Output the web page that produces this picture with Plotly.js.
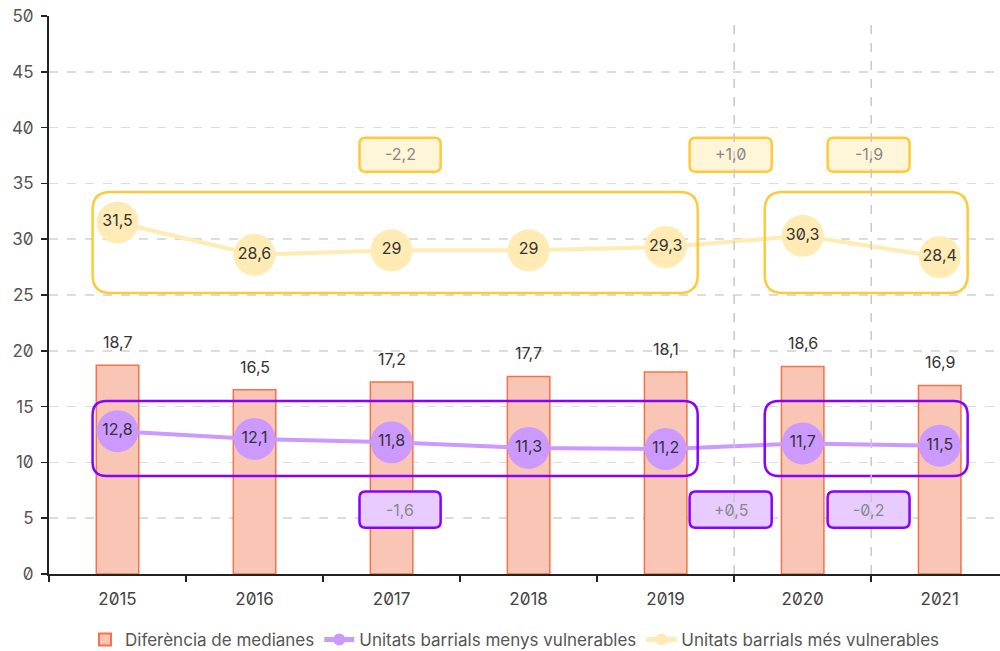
<!DOCTYPE html>
<html>
<head>
<meta charset="utf-8">
<script src="https://cdn.plot.ly/plotly-3.0.1.min.js"></script>
<style>
html,body{margin:0;padding:0;background:#fff;}
#chart{width:1000px;height:651px;}
.main-svg text{font-feature-settings:"zero" 1;}
</style>
</head>
<body>
<div id="chart"></div>
<script>
const years = ["2015","2016","2017","2018","2019","2020","2021"];
const diferencia = [18.7,16.5,17.2,17.7,18.1,18.6,16.9];
const menysVulnerables = [12.8,12.1,11.8,11.3,11.2,11.7,11.5];
const mesVulnerables = [31.5,28.6,29,29,29.3,30.3,28.4];
const yTicks = [0,5,10,15,20,25,30,35,40,45,50];
const changeMes = ["-2,2","+1,0","-1,9"];
const changeMenys = ["-1,6","+0,5","-0,2"];

const fmt = v => String(v).replace('.', ',');
const FONT = "Inter, 'Noto Sans', sans-serif";

const traces = [
  {
    type:'bar', name:'Diferència de medianes', x:years, y:diferencia,
    width:0.31,
    marker:{color:'#f9c6b6', line:{color:'#f7714a', width:1.5}}
  },
  {
    type:'scatter', mode:'lines+markers+text', name:'Unitats barrials menys vulnerables',
    x:years, y:menysVulnerables,
    line:{color:'#cc99ff', width:4},
    marker:{color:'#cc99ff', size:42},
    text:menysVulnerables.map(fmt), textposition:'middle center',
    textfont:{size:16, color:'#333', family:FONT}
  },
  {
    type:'scatter', mode:'lines+markers+text', name:'Unitats barrials més vulnerables',
    x:years, y:mesVulnerables,
    line:{color:'#ffebb3', width:4},
    marker:{color:'#ffebb3', size:42},
    text:mesVulnerables.map(fmt), textposition:'middle center',
    textfont:{size:16, color:'#333', family:FONT}
  }
];

const PXX = 137, PXY = 11.16;
function rr(x0,x1,y0,y1,r){
  const rx=r/PXX, ry=r/PXY;
  return `M ${x0+rx},${y1} L ${x1-rx},${y1} Q ${x1},${y1} ${x1},${y1-ry} L ${x1},${y0+ry} Q ${x1},${y0} ${x1-rx},${y0} L ${x0+rx},${y0} Q ${x0},${y0} ${x0},${y0+ry} L ${x0},${y1-ry} Q ${x0},${y1} ${x0+rx},${y1} Z`;
}
const shapes = [];
const annotations = [];
years.forEach((yr,i)=>annotations.push({x:i, y:diferencia[i], xref:'x', yref:'y', text:fmt(diferencia[i]), showarrow:false, yanchor:'bottom', yshift:11, font:{size:16,color:'#333',family:FONT}}));
const YEL='#ffca3a', PUR='#8800ff';
shapes.push({type:'path', path:rr(-0.182,4.234,25.18,34.23,18), line:{color:YEL,width:2.5}, layer:'above'});
shapes.push({type:'path', path:rr(4.723,6.204,25.18,34.23,18), line:{color:YEL,width:2.5}, layer:'above'});
shapes.push({type:'path', path:rr(-0.182,4.234,8.78,15.5,14), line:{color:PUR,width:2.5}, layer:'above'});
shapes.push({type:'path', path:rr(4.723,6.204,8.78,15.5,14), line:{color:PUR,width:2.5}, layer:'above'});
const boxX = [[1.766,2.358],[4.175,4.774],[5.182,5.78]];
boxX.forEach((bx,i)=>{
  shapes.push({type:'path', path:rr(bx[0],bx[1],36.05,39.1,6), fillcolor:'#fff5d9', line:{color:YEL,width:2.5}, layer:'above'});
  shapes.push({type:'path', path:rr(bx[0],bx[1],4.15,7.4,6), fillcolor:'#e8ccff', line:{color:PUR,width:2.5}, layer:'above'});
  annotations.push({x:(bx[0]+bx[1])/2, y:37.6, xref:'x', yref:'y', text:changeMes[i], showarrow:false, font:{size:16,color:'#888',family:FONT}});
  annotations.push({x:(bx[0]+bx[1])/2, y:5.75, xref:'x', yref:'y', text:changeMenys[i], showarrow:false, font:{size:16,color:'#888',family:FONT}});
});
[4.5,5.5].forEach(v=>shapes.push({type:'line', x0:v, x1:v, y0:0, y1:50, xref:'x', yref:'y', line:{color:'#c8c8c8', width:1.5, dash:'dash'}, layer:'above'}));

const layout = {
  width:1000, height:651,
  margin:{l:49, r:0, t:16, b:77},
  paper_bgcolor:'#fff', plot_bgcolor:'#fff',
  font:{family:FONT, size:16, color:'#555'},
  showlegend:true,
  legend:{orientation:'h', x:0.515, xanchor:'center', xref:'container', y:0.017, yref:'container', yanchor:'middle', font:{size:17,color:'#555',family:FONT}, itemsizing:'constant', traceorder:'normal'},
  xaxis:{type:'category', range:[-0.5,6.44], showline:true, linecolor:'#222', linewidth:2,
    ticks:'outside', tickson:'boundaries', ticklen:6, tickcolor:'#222', tickwidth:1.5, ticklabelstandoff:9,
    showgrid:false, tickfont:{size:17,color:'#444'}, fixedrange:true},
  yaxis:{range:[0,50], tickvals:yTicks, showline:true, linecolor:'#222', linewidth:2,
    ticks:'outside', ticklen:6, tickcolor:'#222', tickwidth:1.5, ticklabelstandoff:4,
    showgrid:true, gridcolor:'#dcdcdc', griddash:'dash', gridwidth:1.5, zeroline:false,
    tickfont:{size:17,color:'#555'}, fixedrange:true},
  shapes:shapes, annotations:annotations
};
Plotly.newPlot('chart', traces, layout, {displayModeBar:false, staticPlot:true});
</script>
</body>
</html>
